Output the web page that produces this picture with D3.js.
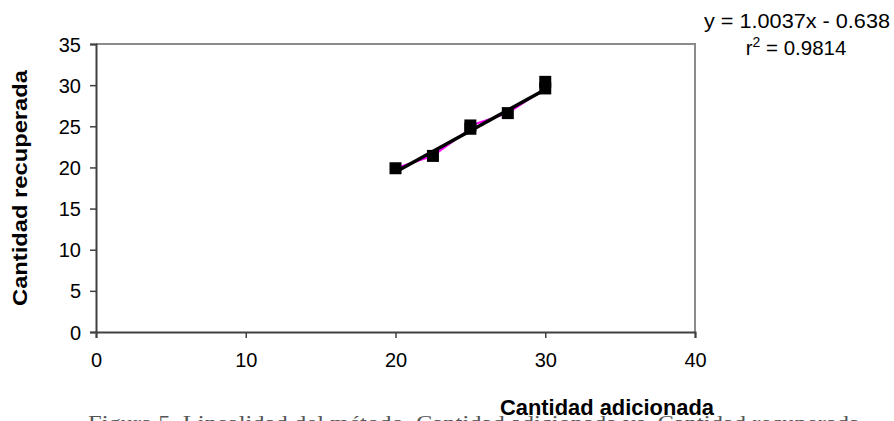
<!DOCTYPE html>
<html lang="es">
  <head>
    <meta charset="utf-8">
    <title>Linealidad</title>
    <script src="https://d3js.org/d3.v7.min.js"></script>
    <style>
      body { margin: 0; background: #fff; }
      text { font-family: "Liberation Sans", Arial, sans-serif; }
    </style>
  </head>
  <body>
    <script type="text/javascript">
    let w = 894;
    let h = 421;

    // data
    let adicionada = [20, 22.5, 25, 25, 27.5, 30, 30];
    let recuperada = [19.9, 21.4, 24.7, 25.1, 26.6, 29.6, 30.4];
    let slope = 1.0037;
    let intercept = -0.638;
    let r2 = 0.9814;
    let xTicks = [0, 10, 20, 30, 40];
    let yTicks = [0, 5, 10, 15, 20, 25, 30, 35];

    let points = adicionada.map((d, i) => ({x: d, y: recuperada[i]}));

    let svg = d3.select("body")
                .append("svg")
                .attr("width", w)
                .attr("height", h);

    let xScale = d3.scaleLinear().domain([0, 40]).range([96, 695]);
    let yScale = d3.scaleLinear().domain([0, 35]).range([332, 44]);

    // plot frame (top + right, lighter grey)
    svg.append("path")
      .attr("d", `M${xScale(0)},${yScale(35)}H${xScale(40)}V${yScale(0)}`)
      .attr("fill", "none")
      .attr("stroke", "#8c8c8c")
      .attr("stroke-width", 2);

    // axes
    let xAxis = svg.append("g")
      .attr("transform", `translate(0,${yScale(0)})`)
      .call(d3.axisBottom(xScale).tickValues(xTicks).tickSize(6).tickPadding(15));
    let yAxis = svg.append("g")
      .attr("transform", `translate(${xScale(0)},0)`)
      .call(d3.axisLeft(yScale).tickValues(yTicks).tickSize(6).tickPadding(9));

    [xAxis, yAxis].forEach(g => {
      g.select(".domain").attr("stroke", "#404040").attr("stroke-width", 2);
      g.selectAll(".tick line").attr("stroke", "#404040").attr("stroke-width", 1.5);
      g.selectAll(".tick text")
        .attr("fill", "#000")
        .style("font-size", "20px")
        .style("font-family", "Liberation Sans, Arial, sans-serif");
    });
    yAxis.selectAll(".tick text").attr("dy", "0.35em");

    // series line (magenta)
    let line = d3.line().x(d => xScale(d.x)).y(d => yScale(d.y));
    svg.append("path")
      .datum(points)
      .attr("d", line)
      .attr("fill", "none")
      .attr("stroke", "#ff00ff")
      .attr("stroke-width", 2);

    // markers
    svg.selectAll("rect.pt")
      .data(points)
      .enter()
      .append("rect")
      .attr("class", "pt")
      .attr("x", d => xScale(d.x) - 6)
      .attr("y", d => yScale(d.y) - 6)
      .attr("width", 12)
      .attr("height", 12)
      .attr("fill", "#000");

    // linear trendline
    let xmin = d3.min(adicionada), xmax = d3.max(adicionada);
    svg.append("path")
      .datum([xmin, xmax].map(x => ({x: x, y: slope * x + intercept})))
      .attr("d", line)
      .attr("fill", "none")
      .attr("stroke", "#000")
      .attr("stroke-width", 3.5);

    // equation
    svg.append("text")
      .attr("x", 797)
      .attr("y", 28)
      .attr("text-anchor", "middle")
      .attr("textLength", 186)
      .attr("lengthAdjust", "spacingAndGlyphs")
      .style("font-size", "19.5px")
      .text(`y = ${slope}x - ${Math.abs(intercept)}`);
    let r = svg.append("text")
      .attr("x", 796)
      .attr("y", 55)
      .attr("text-anchor", "middle")
      .style("font-size", "20.5px");
    r.append("tspan").text("r");
    r.append("tspan").attr("dy", -8).style("font-size", "14px").text("2");
    r.append("tspan").attr("dy", 8).text(` = ${r2}`);

    // axis titles
    svg.append("text")
      .attr("transform", `translate(27,${(yScale(0) + yScale(35)) / 2}) rotate(-90)`)
      .attr("text-anchor", "middle")
      .attr("textLength", 236)
      .attr("lengthAdjust", "spacingAndGlyphs")
      .style("font-size", "21px")
      .style("font-weight", "bold")
      .text("Cantidad recuperada");

    // caption, cut off by the bottom edge
    svg.append("text")
      .attr("x", 88)
      .attr("y", 430)
      .attr("fill", "#555")
      .attr("textLength", 772)
      .attr("lengthAdjust", "spacingAndGlyphs")
      .style("font-family", "Liberation Serif, Times New Roman, serif")
      .style("font-size", "22px")
      .text("Figura 5. Linealidad del método. Cantidad adicionada vs. Cantidad recuperada");

    svg.append("text")
      .attr("x", 607)
      .attr("y", 415)
      .attr("text-anchor", "middle")
      .attr("textLength", 214)
      .attr("lengthAdjust", "spacingAndGlyphs")
      .style("font-size", "22px")
      .style("font-weight", "bold")
      .text("Cantidad adicionada");
    </script>
  </body>
</html>
